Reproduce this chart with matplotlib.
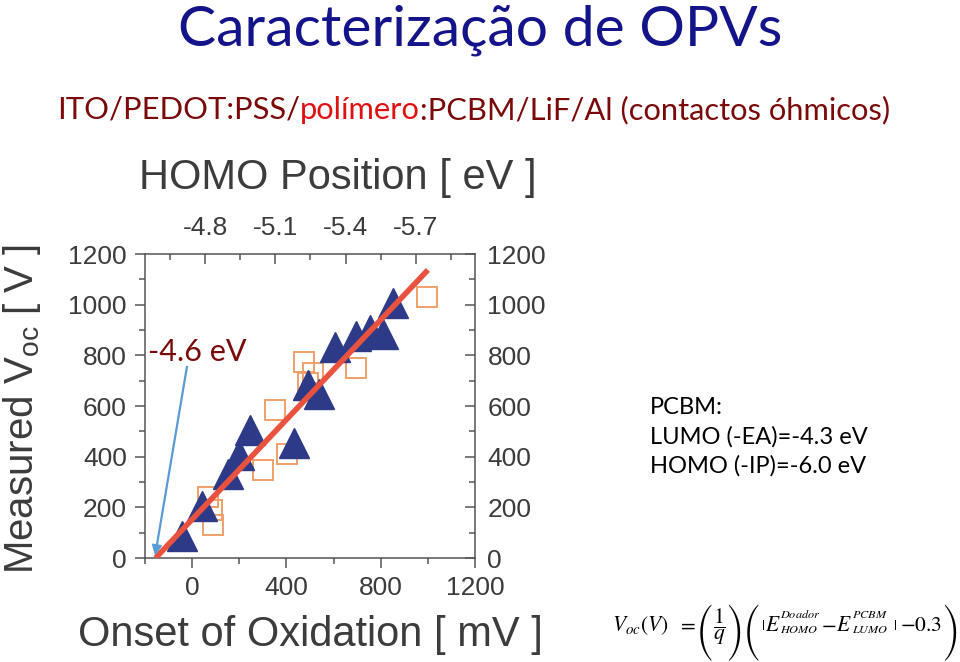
import matplotlib
matplotlib.use("Agg")
import matplotlib.pyplot as plt
from matplotlib.ticker import MultipleLocator, FixedLocator
from matplotlib.textpath import TextPath
from matplotlib.font_manager import FontProperties

plt.rcParams["axes.unicode_minus"] = False

# ---------------- data ----------------
tri_x = [-45, 40, 153, 197, 244, 434, 490, 540, 606, 697, 755, 810, 850]
tri_y = [88, 206, 331, 407, 505, 454, 683, 647, 833, 877, 900, 884, 1006]
sq_x = [69, 83, 90, 302, 352, 401, 475, 512, 490, 697, 995]
sq_y = [242, 190, 130, 347, 584, 410, 772, 732, 690, 750, 1030]
fit_x = [-155, 1000]
fit_y = [0, 1137]
arrow_start = (-22, 755)
arrow_end = (-157, 10)
x_ticks = [0, 400, 800, 1200]
y_ticks = [0, 200, 400, 600, 800, 1000, 1200]
homo_ticks = [-4.8, -5.1, -5.4, -5.7]
# HOMO (eV) at two reference onset values (mV)
homo_ref_mv = [55, 949]
homo_ref_ev = [-4.8, -5.7]

XLIM = (-200, 1200)
YLIM = (0, 1200)

GRAY = "#3c3c3c"
SPINE = "#555555"
SANS = ["Liberation Sans", "DejaVu Sans"]
CAL = ["Lato", "DejaVu Sans"]
W, H = 960, 662
PX_PER_PT = 100 / 72

fig = plt.figure(figsize=(9.6, 6.62), dpi=100)
fig.patch.set_facecolor("white")

ax = fig.add_axes([145/W, 1-558/H, 330/W, 304/H])
ax.set_xlim(*XLIM)
ax.set_ylim(*YLIM)

ax.plot(sq_x, sq_y, linestyle="none", marker="s", markersize=14.5,
        markerfacecolor="none", markeredgecolor="#f0a06a", markeredgewidth=1.4, zorder=3)
ax.plot(tri_x, tri_y, linestyle="none", marker="^", markersize=21,
        markerfacecolor="#2d3a88", markeredgecolor="#2d3a88", zorder=4)
ax.plot(fit_x, fit_y, color="#e8523e", linewidth=4, solid_capstyle="butt", zorder=5)

ax.annotate("", xy=arrow_end, xytext=arrow_start,
            arrowprops=dict(arrowstyle="-|>", color="#5b9bd5", lw=1.6,
                            mutation_scale=14, shrinkA=0, shrinkB=0),
            annotation_clip=False, zorder=6)
ax.text(-188, 813, "-4.6 eV", color="#7a0a0a", fontsize=22, family=CAL,
        va="center", ha="left", clip_on=False, zorder=7)

for s in ax.spines.values():
    s.set_color(SPINE)
    s.set_linewidth(1.1)

ax.xaxis.set_major_locator(FixedLocator(x_ticks))
ax.xaxis.set_minor_locator(MultipleLocator(200))
ax.yaxis.set_major_locator(FixedLocator(y_ticks))
ax.yaxis.set_minor_locator(MultipleLocator(100))
ax.tick_params(axis="both", which="major", direction="out", length=7, width=1.1,
               color=SPINE, labelsize=19, labelcolor=GRAY, pad=6)
ax.tick_params(axis="both", which="minor", direction="out", length=4, width=1.1, color=SPINE)
ax.tick_params(top=False, right=False, which="both")
for lab in ax.get_xticklabels() + ax.get_yticklabels():
    lab.set_family(SANS)

ax.set_xlabel("Onset of Oxidation [ mV ]", fontsize=30, color=GRAY, family=SANS,
              va="center", ha="center")
ax.xaxis.set_label_coords(0.5, (558-635)/304)
ax.set_ylabel("Measured V$_{\\mathregular{oc}}$ [ V ]", fontsize=29, color=GRAY,
              family=SANS, va="center", ha="center")
ax.yaxis.set_label_coords((22-145)/330, 0.49)

# right axis (inward ticks, labels)
axr = ax.twinx()
axr.set_ylim(*YLIM)
axr.yaxis.set_major_locator(FixedLocator(y_ticks))
axr.yaxis.set_minor_locator(MultipleLocator(100))
axr.tick_params(axis="y", which="major", direction="in", length=7, width=1.1,
                color=SPINE, labelsize=19, labelcolor=GRAY, pad=9)
axr.tick_params(axis="y", which="minor", direction="in", length=4, width=1.1, color=SPINE)
for lab in axr.get_yticklabels():
    lab.set_family(SANS)
for s in axr.spines.values():
    s.set_visible(False)

# top axis: HOMO position
slope = (homo_ref_ev[1] - homo_ref_ev[0]) / (homo_ref_mv[1] - homo_ref_mv[0])
def to_ev(mv):
    return homo_ref_ev[0] + (mv - homo_ref_mv[0]) * slope
axt = ax.twiny()
axt.set_xlim(to_ev(XLIM[0]), to_ev(XLIM[1]))
axt.xaxis.set_major_locator(FixedLocator(homo_ticks))
axt.xaxis.set_minor_locator(MultipleLocator(0.15))
axt.tick_params(axis="x", which="major", direction="in", length=7, width=1.1,
                color=SPINE, labelsize=19, labelcolor=GRAY, pad=10)
axt.tick_params(axis="x", which="minor", direction="in", length=4, width=1.1, color=SPINE)
for lab in axt.get_xticklabels():
    lab.set_family(SANS)
for s in axt.spines.values():
    s.set_visible(False)

fig.text(338/W, 1-178/H, "HOMO Position [ eV ]", fontsize=30, color=GRAY,
         family=SANS, ha="center", va="center")

# slide texts
fig.text(0.5, 1-30/H, "Caracterização de OPVs", fontsize=41, color="#14148a",
         family=CAL, ha="center", va="center")

fig.canvas.draw()
renderer = fig.canvas.get_renderer()
parts = [("ITO/PEDOT:PSS/", "#7a0a0a"), ("polímero", "#e01010"),
         (":PCBM/LiF/Al (contactos óhmicos)", "#7a0a0a")]
xpix = 57
for txt, col in parts:
    t = fig.text(xpix/W, 1-110/H, txt, fontsize=22.2, color=col, family=CAL,
                 ha="left", va="center")
    bb = t.get_window_extent(renderer)
    xpix += bb.width

pcbm = ["PCBM:", "LUMO (-EA)=-4.3 eV", "HOMO (-IP)=-6.0 eV"]
for i, line in enumerate(pcbm):
    fig.text(650/W, 1-(407 + 29.5*i)/H, line, fontsize=17, color="black",
             family=CAL, ha="left", va="center")

# ---------------- formula (pieces flowed left to right) ----------------
FS = 15.5
SS = 8.8
BASE = 631
PAREN_TOP, PAREN_BOT = 604, 661
paren_h = PAREN_BOT - PAREN_TOP
best = None
for fam in ["STIXSizeOneSym", "STIXSizeTwoSym", "STIXSizeThreeSym", "STIXSizeFourSym"]:
    fp = FontProperties(family=fam)
    ext = TextPath((0, 0), "(", size=1, prop=fp).get_extents()
    f_req = paren_h / (ext.height * PX_PER_PT)
    if best is None or abs(f_req - FS) < abs(best[1] - FS):
        best = (fam, f_req)
PFAM, PSIZE = best

cur = [0.0]

def put(s, x, y, size=FS, advance=True):
    x = max(x, cur[0])
    t = fig.text(x/W, 1-y/H, s, fontsize=size, color="black", ha="left",
                 va="baseline", math_fontfamily="stix")
    bb = t.get_window_extent(renderer)
    if advance:
        cur[0] = max(cur[0], bb.x1)
    return bb.x1

def paren(ch, x_edge, right=False):
    fp = FontProperties(family=PFAM)
    ext = TextPath((0, 0), ch, size=PSIZE, prop=fp).get_extents()
    base = PAREN_BOT + ext.y0 * PX_PER_PT
    x0 = x_edge - (ext.x1 if right else ext.x0) * PX_PER_PT
    x0 = max(x0, cur[0])
    t = fig.text(x0/W, 1-base/H, ch, fontsize=PSIZE, family=PFAM, color="black",
                 ha="left", va="baseline")
    cur[0] = t.get_window_extent(renderer).x1

put(r"$V_{oc}(V)$", 612, BASE)
put(r"$=$", 677, BASE)
paren("(", 695)
put(r"$\dfrac{1}{q}$", 705, BASE)
paren(")", 728, right=True)
paren("(", 731)
put(r"$|$", 740, BASE - 1, size=11)
put(r"$E$", 747, BASE)
x_sup = cur[0]
a = put(r"$Doador$", 767, BASE - 13, size=SS, advance=False)
cur[0] = x_sup
b = put(r"$HOMO$", 767, BASE + 2, size=SS, advance=False)
cur[0] = max(a, b)
put(r"$-$", 813, BASE)
put(r"$E$", 831, BASE)
x_sup = cur[0]
a = put(r"$PCBM$", 850, BASE - 13, size=SS, advance=False)
cur[0] = x_sup
b = put(r"$LUMO$", 850, BASE + 2, size=SS, advance=False)
cur[0] = max(a, b)
put(r"$|$", 893, BASE - 1, size=11)
put(r"$-0.3$", 900, BASE)
paren(")", 950, right=True)

fig.savefig("out.png", dpi=100, facecolor="white")
